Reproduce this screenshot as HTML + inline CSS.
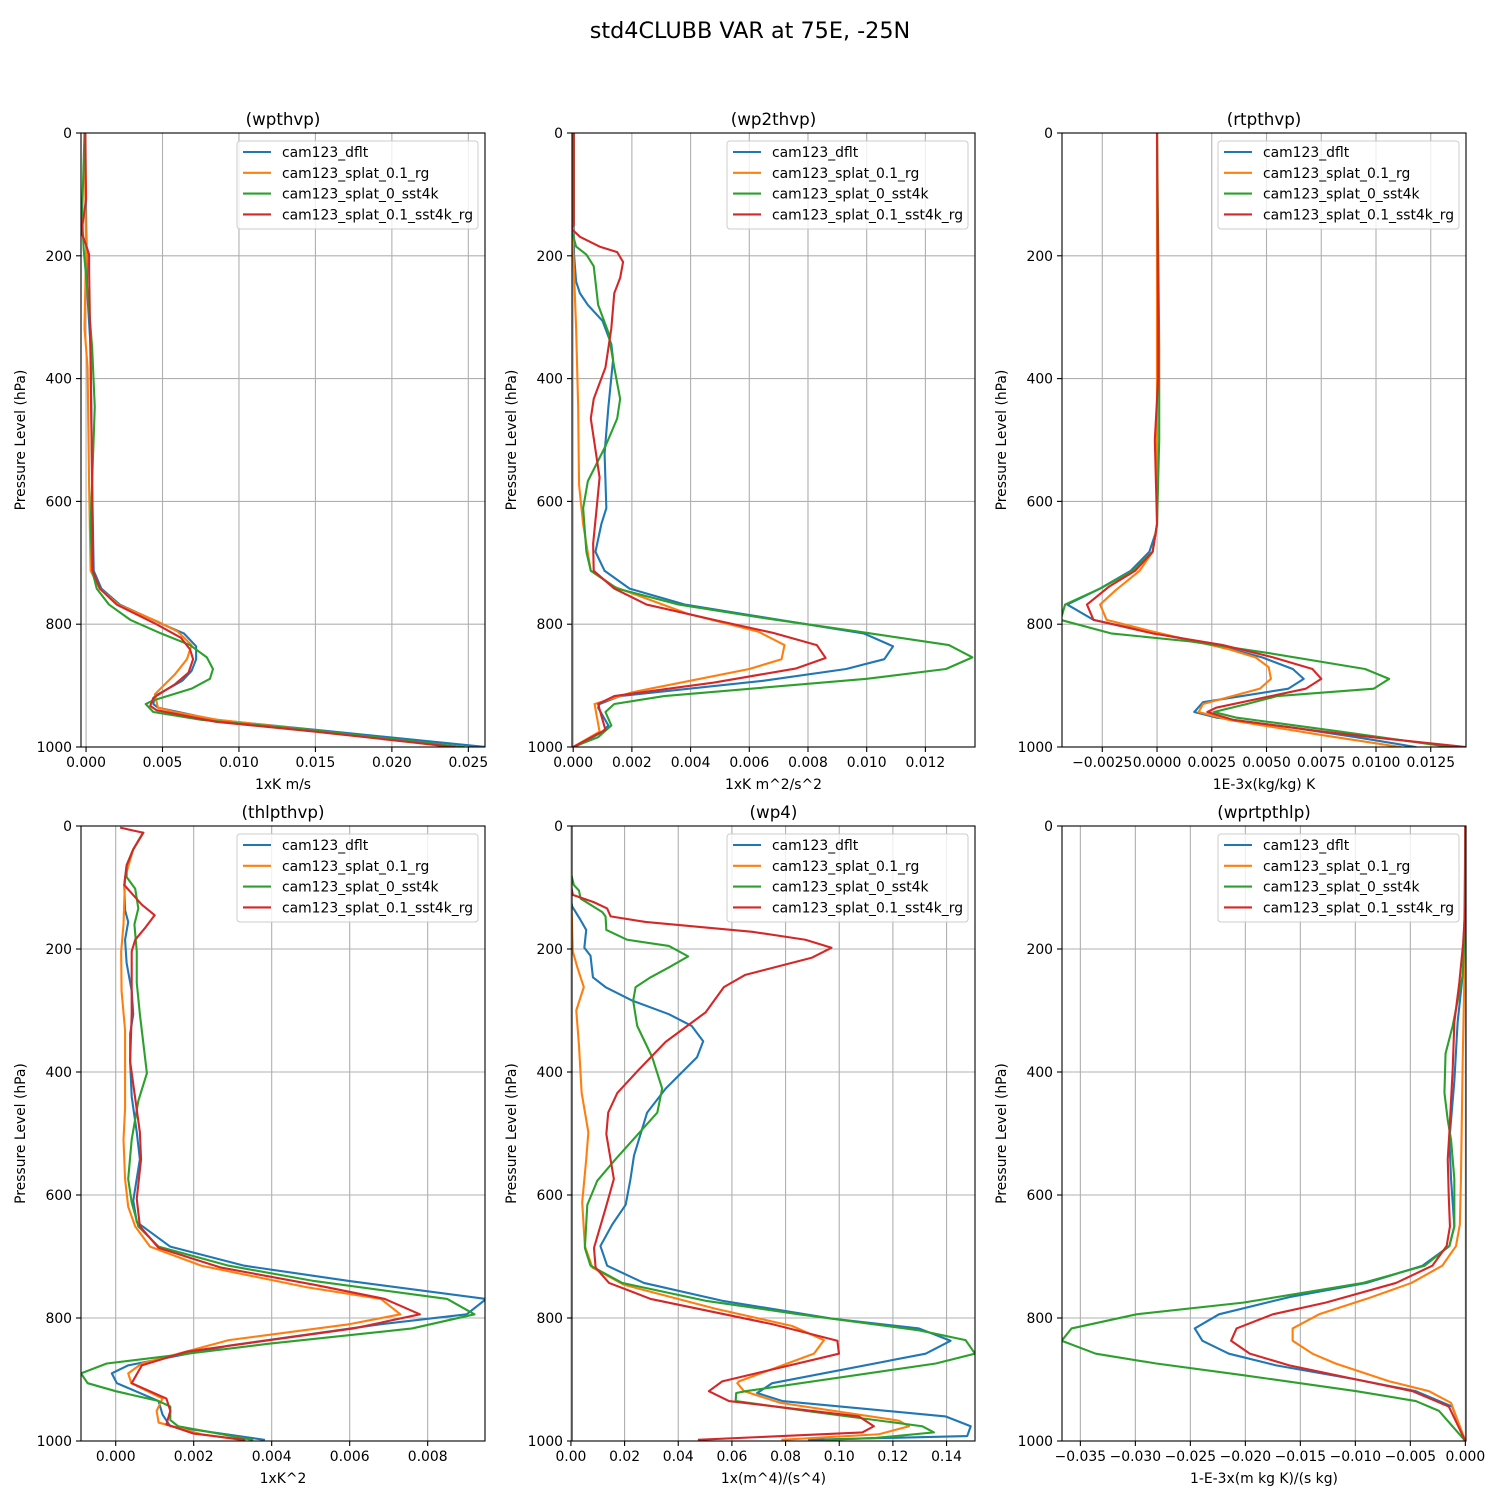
<!DOCTYPE html>
<html><head><meta charset="utf-8"><title>std4CLUBB VAR at 75E, -25N</title>
<style>
html,body{margin:0;padding:0;background:#fff;}
svg{display:block;font-family:"DejaVu Sans","Liberation Sans",sans-serif;}
</style></head>
<body>
<svg id="fig" width="1500" height="1500" viewBox="0 0 1500 1500" xmlns="http://www.w3.org/2000/svg">
<rect width="1500" height="1500" fill="#fff"/>
<text x="750" y="38" text-anchor="middle" font-size="22.3">std4CLUBB VAR at 75E, -25N</text>
</svg>
<script>
const seriesNames = ["cam123_dflt","cam123_splat_0.1_rg","cam123_splat_0_sst4k","cam123_splat_0.1_sst4k_rg"];
const seriesColors = ["#1f77b4","#ff7f0e","#2ca02c","#d62728"];
const yTicks = [0,200,400,600,800,1000];

// Panel 1: wpthvp
const wpthvp_xticks = [0,0.005,0.01,0.015,0.02,0.025];
const wpthvp_xlabels = ["0.000","0.005","0.010","0.015","0.020","0.025"];
const wpthvp_dflt_p = [0,127,255,350,573,713,742,768,800,815,836,857,876,892,917,930,936,956,972,1000];
const wpthvp_dflt_v = [-0.0001,0,0.00007,0.0003,0.0004,0.0005,0.001,0.0022,0.005,0.0064,0.0072,0.0072,0.0069,0.0063,0.0045,0.0044,0.0047,0.0085,0.015,0.0261];
const wpthvp_rg_p = [0,191,318,382,573,713,742,768,796,812,834,857,882,914,936,943,956,973,1000];
const wpthvp_rg_v = [-0.0001,0,-0.0001,0.0001,0.0002,0.0003,0.0009,0.0021,0.0047,0.006,0.0069,0.0066,0.0058,0.0045,0.0047,0.0058,0.0087,0.015,0.0239];
const wpthvp_sst4k_p = [0,134,191,287,350,446,637,713,742,768,793,815,834,854,873,889,905,924,930,943,956,972,1000];
const wpthvp_sst4k_v = [-0.0001,-0.00026,-0.00015,0.0002,0.0004,0.00057,0.0003,0.0004,0.0007,0.0015,0.0029,0.0049,0.0068,0.0079,0.0083,0.0081,0.0069,0.0044,0.0039,0.0044,0.0076,0.0146,0.0247];
const wpthvp_sst4krg_p = [0,108,162,182,198,223,382,573,713,742,768,800,822,841,857,879,898,920,933,940,959,975,1000];
const wpthvp_sst4krg_v = [-0.00005,0,-0.0003,0,0.0002,0.0002,0.0003,0.0004,0.00044,0.0009,0.002,0.0046,0.0062,0.0068,0.007,0.0067,0.0058,0.0044,0.0042,0.0046,0.0085,0.015,0.0241];

// Panel 2: wp2thvp
const wp2thvp_xticks = [0,0.002,0.004,0.006,0.008,0.01,0.012];
const wp2thvp_xlabels = ["0.000","0.002","0.004","0.006","0.008","0.010","0.012"];
const wp2thvp_dflt_p = [0,159,198,242,261,280,306,344,369,446,522,611,637,682,713,742,768,785,815,836,857,873,892,917,930,936,965,975,1000];
const wp2thvp_dflt_v = [0.00002,0.00002,0.00003,0.0001,0.00023,0.0005,0.001,0.0013,0.00136,0.0012,0.00107,0.00113,0.00096,0.00076,0.00107,0.00192,0.0038,0.006,0.0099,0.0109,0.0106,0.0093,0.0065,0.0016,0.0009,0.00085,0.0012,0.001,0.00005];
const wp2thvp_rg_p = [0,191,318,446,573,637,713,739,783,812,834,857,873,892,911,930,949,975,1000];
const wp2thvp_rg_v = [0,0,0.0001,0.00017,0.0002,0.00034,0.0006,0.0014,0.0039,0.0063,0.0072,0.0071,0.006,0.004,0.002,0.00073,0.0008,0.0009,0];
const wp2thvp_sst4k_p = [0,140,150,185,198,217,280,325,382,433,465,510,567,611,682,713,742,768,790,812,834,854,873,889,917,930,943,965,984,1000];
const wp2thvp_sst4k_v = [0.00002,0.00002,-0.0001,0.0001,0.00045,0.0007,0.00085,0.0012,0.0014,0.0016,0.0015,0.0011,0.0005,0.00034,0.00045,0.0006,0.0015,0.0036,0.0065,0.0097,0.0128,0.0136,0.0127,0.01,0.0031,0.0014,0.0011,0.0013,0.00085,0];
const wp2thvp_sst4krg_p = [0,150,156,169,185,194,210,236,261,318,382,433,465,561,611,669,713,742,768,793,814,834,855,872,895,917,930,949,972,1000];
const wp2thvp_sst4krg_v = [0.00002,0.00002,-0.00006,0.00023,0.0009,0.0015,0.0017,0.0016,0.0014,0.0013,0.0011,0.0007,0.0006,0.0009,0.0008,0.00068,0.0007,0.0014,0.0025,0.0048,0.0068,0.0083,0.0086,0.0076,0.0048,0.0014,0.00085,0.00096,0.0011,0];

// Panel 3: rtpthvp
const rtpthvp_xticks = [-0.0025,0,0.0025,0.005,0.0075,0.01,0.0125];
const rtpthvp_xlabels = ["\u22120.0025","0.0000","0.0025","0.0050","0.0075","0.0100","0.0125"];
const rtpthvp_dflt_p = [0,637,650,682,713,742,768,793,815,834,854,873,889,905,927,943,952,968,984,1000];
const rtpthvp_dflt_v = [0,0,-0.00005,-0.00035,-0.0012,-0.0026,-0.0041,-0.0029,-0.00005,0.0027,0.0048,0.0062,0.0067,0.006,0.0021,0.0017,0.0027,0.0061,0.0091,0.0118];
const rtpthvp_rg_p = [0,637,682,713,745,768,793,812,841,854,870,889,905,930,943,956,981,1000];
const rtpthvp_rg_v = [0,0,-0.0002,-0.0008,-0.0019,-0.0026,-0.0023,-0.0002,0.0033,0.0045,0.0051,0.0052,0.0047,0.0021,0.0019,0.0033,0.0076,0.0111];
const rtpthvp_sst4k_p = [0,350,500,637,682,713,742,768,793,815,828,847,873,889,905,917,930,943,952,975,1000];
const rtpthvp_sst4k_v = [0,0.0001,0.0001,0,-0.0002,-0.0011,-0.0026,-0.0042,-0.0044,-0.0021,0.0015,0.0051,0.0095,0.0106,0.0099,0.0055,0.0041,0.0026,0.0036,0.0084,0.0134];
const rtpthvp_sst4krg_p = [0,300,400,500,637,682,713,739,768,793,815,834,854,873,889,905,936,943,956,975,987,1000];
const rtpthvp_sst4krg_v = [0,0.00005,0.00005,-0.0001,0,-0.0002,-0.001,-0.0022,-0.0032,-0.0029,-0.0002,0.003,0.0053,0.0071,0.0075,0.0068,0.0027,0.0023,0.0035,0.0076,0.0106,0.0141];

// Panel 4: thlpthvp
const thlpthvp_xticks = [0,0.002,0.004,0.006,0.008];
const thlpthvp_xlabels = ["0.000","0.002","0.004","0.006","0.008"];
const thlpthvp_dflt_p = [11,38,64,96,137,156,185,223,268,306,338,383,440,498,542,609,644,684,715,740,769,794,810,845,877,890,906,935,957,976,998];
const thlpthvp_dflt_v = [0.0007,0.00045,0.00028,0.00022,0.00024,0.00032,0.00024,0.00028,0.00041,0.00045,0.00037,0.00037,0.00041,0.00054,0.00062,0.00045,0.00054,0.0014,0.0033,0.006,0.0095,0.009,0.0068,0.0029,0.00032,-0.0001,0.00003,0.0011,0.0012,0.0014,0.0038];
const thlpthvp_rg_p = [11,38,83,160,204,268,332,459,510,574,619,651,684,715,750,769,794,810,836,874,890,906,931,951,970,989,998];
const thlpthvp_rg_v = [0.0007,0.00045,0.00024,0.0002,0.00014,0.00015,0.00024,0.00024,0.0002,0.00024,0.00032,0.0005,0.00088,0.0022,0.0049,0.0068,0.0073,0.006,0.0029,0.00067,0.00032,0.0004,0.0012,0.00105,0.0011,0.0022,0.0032];
const thlpthvp_sst4k_p = [11,38,64,83,102,134,160,204,255,306,402,447,510,574,612,651,684,715,740,769,794,817,842,874,890,906,919,935,944,966,976,998];
const thlpthvp_sst4k_v = [0.0007,0.00045,0.00028,0.00028,0.0005,0.00058,0.00048,0.00054,0.00054,0.00062,0.0008,0.00058,0.00041,0.00032,0.00041,0.00058,0.0011,0.0029,0.0051,0.0085,0.0092,0.0076,0.0039,-0.00023,-0.00089,-0.00072,0,0.0011,0.0014,0.0014,0.0016,0.0035];
const thlpthvp_sst4krg_p = [3,11,38,64,96,128,145,166,185,204,306,383,498,542,606,651,686,718,746,769,794,817,855,877,906,931,951,973,988,998];
const thlpthvp_sst4krg_v = [0.00014,0.00071,0.00045,0.00028,0.00022,0.00067,0.001,0.00075,0.0005,0.00041,0.00041,0.00037,0.00062,0.00065,0.00054,0.00062,0.0011,0.0027,0.0051,0.0069,0.0078,0.0061,0.0018,0.00067,0.00041,0.0013,0.0014,0.0013,0.002,0.0033];

// Panel 5: wp4
const wp4_xticks = [0,0.02,0.04,0.06,0.08,0.1,0.12,0.14];
const wp4_xlabels = ["0.00","0.02","0.04","0.06","0.08","0.10","0.12","0.14"];
const wp4_dflt_p = [0,121,131,153,169,198,211,246,262,284,306,325,350,376,427,466,536,574,616,648,683,715,743,772,801,817,837,858,906,922,935,960,976,992,998];
const wp4_dflt_v = [0,0,0.0005,0.0036,0.0057,0.005,0.0073,0.0082,0.0129,0.0229,0.0365,0.045,0.0493,0.047,0.0353,0.0284,0.0235,0.0222,0.0204,0.0154,0.011,0.0135,0.0272,0.0564,0.0974,0.1297,0.1415,0.1322,0.075,0.0694,0.0788,0.1396,0.149,0.1477,0.0887];
const wp4_rg_p = [0,128,204,230,262,300,357,434,498,542,612,683,718,746,785,813,836,858,903,906,919,938,967,976,989,998];
const wp4_rg_v = [0,0.0002,0.0007,0.0024,0.0048,0.002,0.003,0.004,0.0065,0.0057,0.0042,0.0052,0.008,0.0198,0.0539,0.0825,0.0943,0.0906,0.0626,0.062,0.0645,0.0781,0.1222,0.126,0.1148,0.0788];
const wp4_sst4k_p = [0,77,96,105,118,140,147,169,185,195,212,230,246,262,284,325,376,427,466,542,577,616,686,715,743,772,794,820,836,858,874,919,922,935,951,976,986,995,998];
const wp4_sst4k_v = [0,0,0.0011,0.003,0.0036,0.0117,0.0129,0.0132,0.021,0.0365,0.0437,0.0365,0.0297,0.0241,0.0232,0.0247,0.0303,0.034,0.0322,0.0166,0.0098,0.0061,0.0052,0.0073,0.0191,0.0502,0.085,0.1297,0.1471,0.1506,0.136,0.0651,0.0616,0.0614,0.0875,0.1309,0.1353,0.1135,0.0949];
const wp4_sst4krg_p = [0,96,112,124,134,147,156,172,185,198,214,242,262,303,351,399,434,466,501,574,622,686,718,743,769,810,837,858,903,919,935,960,976,986,998];
const wp4_sst4krg_v = [0,0,0.0007,0.0086,0.0135,0.0148,0.0278,0.0676,0.0874,0.0971,0.0899,0.065,0.057,0.0502,0.0353,0.0247,0.0173,0.0139,0.0132,0.016,0.0129,0.0086,0.0092,0.0142,0.0297,0.075,0.0993,0.0999,0.0564,0.0514,0.0589,0.1073,0.1129,0.1086,0.0477];

// Panel 6: wprtpthlp
const wprtpthlp_xticks = [-0.035,-0.03,-0.025,-0.02,-0.015,-0.01,-0.005,0];
const wprtpthlp_xlabels = ["\u22120.035","\u22120.030","\u22120.025","\u22120.020","\u22120.015","\u22120.010","\u22120.005","0.000"];
const wprtpthlp_dflt_p = [0,191,242,319,415,510,574,651,683,715,743,766,794,817,837,858,877,900,919,944,1000];
const wprtpthlp_dflt_v = [0,-0.0001,-0.00024,-0.0007,-0.001,-0.00145,-0.0013,-0.001,-0.00145,-0.0039,-0.009,-0.016,-0.0224,-0.0246,-0.0239,-0.0215,-0.0172,-0.0099,-0.0045,-0.0012,0];
const wprtpthlp_rg_p = [0,191,255,383,574,648,683,715,743,769,794,817,837,858,874,903,919,938,1000];
const wprtpthlp_rg_v = [0,0,-0.0001,-0.00024,-0.0004,-0.0005,-0.00085,-0.0021,-0.0049,-0.009,-0.0133,-0.0157,-0.0157,-0.0139,-0.0118,-0.0069,-0.0033,-0.0013,0];
const wprtpthlp_sst4k_p = [0,160,242,325,370,434,478,510,574,651,683,715,743,775,794,817,837,858,874,893,919,935,951,1000];
const wprtpthlp_sst4k_v = [0,0,-0.00024,-0.00115,-0.0018,-0.0019,-0.0016,-0.0013,-0.001,-0.001,-0.00145,-0.0037,-0.0093,-0.0202,-0.0299,-0.0358,-0.0367,-0.0336,-0.0281,-0.0202,-0.0099,-0.0045,-0.0024,0];
const wprtpthlp_sst4krg_p = [0,128,191,255,319,396,498,542,606,651,683,715,743,775,794,817,837,858,877,900,919,944,1000];
const wprtpthlp_sst4krg_v = [0,0,-0.0002,-0.00055,-0.001,-0.00115,-0.00145,-0.0016,-0.0015,-0.0014,-0.0017,-0.003,-0.0063,-0.0127,-0.0175,-0.0208,-0.0213,-0.0196,-0.016,-0.0099,-0.0048,-0.0015,0];

const panels = [
 {id:"wpthvp", title:"(wpthvp)", xlabel:"1xK m/s", L:81, R:485, T:133, B:747, xmin:-0.00033, xmax:0.02609, ticks:wpthvp_xticks, labels:wpthvp_xlabels,
  P:[wpthvp_dflt_p,wpthvp_rg_p,wpthvp_sst4k_p,wpthvp_sst4krg_p], V:[wpthvp_dflt_v,wpthvp_rg_v,wpthvp_sst4k_v,wpthvp_sst4krg_v]},
 {id:"wp2thvp", title:"(wp2thvp)", xlabel:"1xK m^2/s^2", L:572, R:975, T:133, B:747, xmin:-0.00004, xmax:0.01369, ticks:wp2thvp_xticks, labels:wp2thvp_xlabels,
  P:[wp2thvp_dflt_p,wp2thvp_rg_p,wp2thvp_sst4k_p,wp2thvp_sst4krg_p], V:[wp2thvp_dflt_v,wp2thvp_rg_v,wp2thvp_sst4k_v,wp2thvp_sst4krg_v]},
 {id:"rtpthvp", title:"(rtpthvp)", xlabel:"1E-3x(kg/kg) K", L:1062, R:1466, T:133, B:747, xmin:-0.00434, xmax:0.01411, ticks:rtpthvp_xticks, labels:rtpthvp_xlabels,
  P:[rtpthvp_dflt_p,rtpthvp_rg_p,rtpthvp_sst4k_p,rtpthvp_sst4krg_p], V:[rtpthvp_dflt_v,rtpthvp_rg_v,rtpthvp_sst4k_v,rtpthvp_sst4krg_v]},
 {id:"thlpthvp", title:"(thlpthvp)", xlabel:"1xK^2", L:81, R:485, T:826, B:1441, xmin:-0.00089, xmax:0.00947, ticks:thlpthvp_xticks, labels:thlpthvp_xlabels,
  P:[thlpthvp_dflt_p,thlpthvp_rg_p,thlpthvp_sst4k_p,thlpthvp_sst4krg_p], V:[thlpthvp_dflt_v,thlpthvp_rg_v,thlpthvp_sst4k_v,thlpthvp_sst4krg_v]},
 {id:"wp4", title:"(wp4)", xlabel:"1x(m^4)/(s^4)", L:572, R:975, T:826, B:1441, xmin:0.0004, xmax:0.1506, ticks:wp4_xticks, labels:wp4_xlabels,
  P:[wp4_dflt_p,wp4_rg_p,wp4_sst4k_p,wp4_sst4krg_p], V:[wp4_dflt_v,wp4_rg_v,wp4_sst4k_v,wp4_sst4krg_v]},
 {id:"wprtpthlp", title:"(wprtpthlp)", xlabel:"1-E-3x(m kg K)/(s kg)", L:1062, R:1466, T:826, B:1441, xmin:-0.03667, xmax:0.00006, ticks:wprtpthlp_xticks, labels:wprtpthlp_xlabels,
  P:[wprtpthlp_dflt_p,wprtpthlp_rg_p,wprtpthlp_sst4k_p,wprtpthlp_sst4krg_p], V:[wprtpthlp_dflt_v,wprtpthlp_rg_v,wprtpthlp_sst4k_v,wprtpthlp_sst4krg_v]}
];

const NS = "http://www.w3.org/2000/svg";
const svg = document.getElementById("fig");
function mk(tag, attrs, parent){
  const e = document.createElementNS(NS, tag);
  for (const k in attrs) e.setAttribute(k, attrs[k]);
  parent.appendChild(e);
  return e;
}
const defs = mk("defs", {}, svg);

panels.forEach(function(pn){
  const xs = function(v){ return pn.L + (v - pn.xmin) / (pn.xmax - pn.xmin) * (pn.R - pn.L); };
  const ys = function(p){ return pn.T + p / 1000 * (pn.B - pn.T); };
  const g = mk("g", {}, svg);
  
  
  const cp = mk("clipPath", {id:"clip-" + pn.id}, defs);
  mk("rect", {x:pn.L, y:pn.T, width:pn.R - pn.L, height:pn.B - pn.T}, cp);

  const grid = mk("g", {}, g);
  
  
  pn.ticks.forEach(function(t){
    const x = xs(t);
    mk("line", {x1:x, x2:x, y1:pn.T, y2:pn.B, stroke:"#b0b0b0", "stroke-width":1.1}, grid);
  });
  yTicks.forEach(function(t){
    const y = ys(t);
    mk("line", {x1:pn.L, x2:pn.R, y1:y, y2:y, stroke:"#b0b0b0", "stroke-width":1.1}, grid);
  });

  const sg = mk("g", {"clip-path":"url(#clip-" + pn.id + ")"}, g);
  for (let s = 0; s < 4; s++){
    const pts = pn.P[s].map(function(p, i){ return xs(pn.V[s][i]).toFixed(2) + "," + ys(p).toFixed(2); }).join(" ");
    const pl = mk("polyline", {points:pts, fill:"none", stroke:seriesColors[s], "stroke-width":2.1, "stroke-linejoin":"round", "stroke-linecap":"square"}, sg);
    
    
  }

  const fr = mk("rect", {x:pn.L, y:pn.T, width:pn.R - pn.L, height:pn.B - pn.T, fill:"none", stroke:"#000", "stroke-width":1.1}, g);
  
  

  const xg = mk("g", {}, g);
  
  
  pn.ticks.forEach(function(t, i){
    const x = xs(t);
    mk("line", {x1:x, x2:x, y1:pn.B, y2:pn.B + 5, stroke:"#000", "stroke-width":1.1}, xg);
    const tx = mk("text", {x:x, y:pn.B + 20, "text-anchor":"middle", "font-size":13.9}, xg);
    tx.textContent = pn.labels[i];
    
    
  });
  const xl = mk("text", {x:(pn.L + pn.R) / 2, y:pn.B + 42, "text-anchor":"middle", "font-size":13.9}, g);
  xl.textContent = pn.xlabel;
  
  

  const yg = mk("g", {}, g);
  
  
  yTicks.forEach(function(t){
    const y = ys(t);
    mk("line", {x1:pn.L - 5, x2:pn.L, y1:y, y2:y, stroke:"#000", "stroke-width":1.1}, yg);
    const tx = mk("text", {x:pn.L - 9, y:y + 5, "text-anchor":"end", "font-size":13.9}, yg);
    tx.textContent = String(t);
    
    
  });
  const yx = pn.L - 56, ym = (pn.T + pn.B) / 2;
  const yl = mk("text", {x:yx, y:ym, "text-anchor":"middle", "font-size":13.9, transform:"rotate(-90 " + yx + " " + ym + ")"}, g);
  yl.textContent = "Pressure Level (hPa)";
  
  

  const tt = mk("text", {x:(pn.L + pn.R) / 2, y:pn.T - 8, "text-anchor":"middle", "font-size":16.7}, g);
  tt.textContent = pn.title;
  
  

  const lg = mk("g", {}, g);
  
  
  const lx = pn.R - 248, ly = pn.T + 8;
  mk("rect", {x:lx, y:ly, width:241, height:88, rx:3, fill:"#fff", "fill-opacity":0.8, stroke:"#cccccc", "stroke-width":1}, lg);
  for (let s = 0; s < 4; s++){
    const ey = ly + 11 + s * 20.8;
    const en = mk("g", {}, lg);
    
    
    mk("line", {x1:lx + 6, x2:lx + 34, y1:ey, y2:ey, stroke:seriesColors[s], "stroke-width":2.1}, en);
    const t = mk("text", {x:lx + 45, y:ey + 5, "font-size":13.9}, en);
    t.textContent = seriesNames[s];
  }
});
</script>
</body></html>
